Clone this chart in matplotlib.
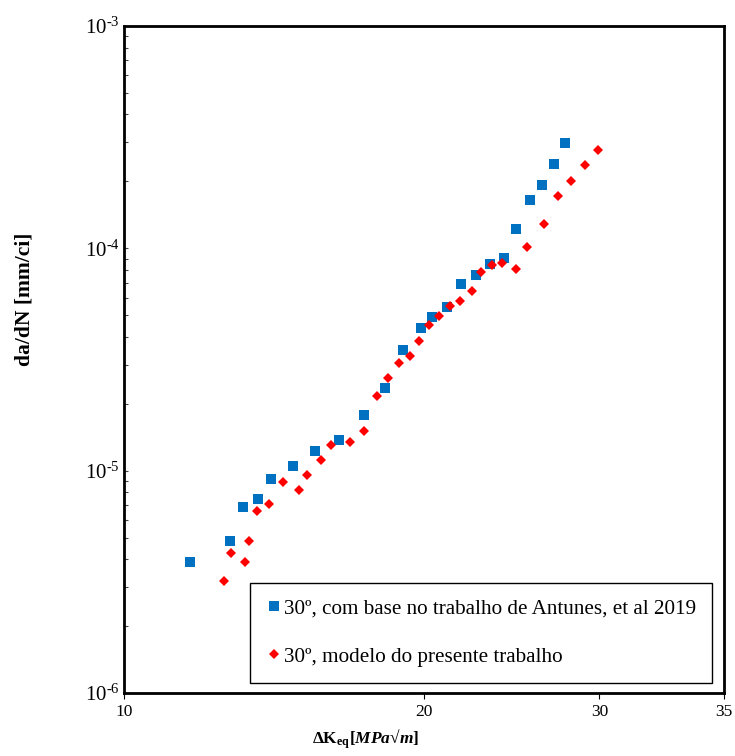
import numpy as np
import matplotlib
matplotlib.use("Agg")
import matplotlib.pyplot as plt
from matplotlib.ticker import FixedLocator, FixedFormatter, LogLocator, NullLocator, NullFormatter

plt.rcParams['font.family'] = ['Liberation Serif', 'DejaVu Serif']
plt.rcParams['mathtext.fontset'] = 'custom'
plt.rcParams['mathtext.rm'] = 'Liberation Serif'
plt.rcParams['mathtext.it'] = 'Liberation Serif:italic'
plt.rcParams['mathtext.bf'] = 'Liberation Serif:bold'
plt.rcParams['mathtext.bfit'] = 'Liberation Serif:italic:bold'

# crack growth rate vs equivalent stress intensity range, 30 degree case
dk_antunes = [11.66, 12.78, 13.15, 13.62, 14.03, 14.76, 15.53, 16.42, 17.43, 18.27,
              19.04, 19.85, 20.38, 21.10, 21.81, 22.54, 23.28, 24.04, 24.75, 25.53,
              26.28, 26.99, 27.73]
dadn_antunes = [3.90e-6, 4.85e-6, 6.87e-6, 7.43e-6, 9.18e-6, 1.047e-5, 1.232e-5, 1.370e-5,
                1.776e-5, 2.349e-5, 3.50e-5, 4.36e-5, 4.90e-5, 5.44e-5, 6.88e-5, 7.58e-5,
                8.46e-5, 9.01e-5, 1.216e-4, 1.648e-4, 1.919e-4, 2.386e-4, 2.966e-4]

dk_modelo = [12.59, 12.81, 13.22, 13.35, 13.61, 13.98, 14.44, 14.98, 15.28, 15.76,
             16.15, 16.86, 17.42, 17.96, 18.42, 18.88, 19.35, 19.78, 20.21, 20.72,
             21.24, 21.74, 22.32, 22.84, 23.41, 23.95, 24.76, 25.40, 26.42, 27.25,
             28.12, 29.00, 29.91]
dadn_modelo = [3.18e-6, 4.28e-6, 3.87e-6, 4.81e-6, 6.57e-6, 7.11e-6, 8.87e-6, 8.19e-6,
               9.56e-6, 1.117e-5, 1.305e-5, 1.346e-5, 1.504e-5, 2.178e-5, 2.624e-5,
               3.05e-5, 3.27e-5, 3.83e-5, 4.54e-5, 4.97e-5, 5.48e-5, 5.79e-5, 6.44e-5,
               7.84e-5, 8.40e-5, 8.55e-5, 8.04e-5, 1.016e-4, 1.281e-4, 1.712e-4,
               2.006e-4, 2.375e-4, 2.758e-4]

x_ticks = [10, 20, 30, 40]
x_ticklabels = ['10', '20', '30', '35']
y_ticks = [1e-6, 1e-5, 1e-4, 1e-3]
y_ticklabels = [r'$10^{\text{-6}}$', r'$10^{\text{-5}}$', r'$10^{\text{-4}}$', r'$10^{\text{-3}}$']

fig = plt.figure(figsize=(7.35, 7.56), dpi=100)
fig.subplots_adjust(left=124/735, right=724/735, bottom=1 - 693/756, top=1 - 26/756)
ax = fig.add_subplot(111)

ax.plot(dk_antunes, dadn_antunes, 's', color='#0070C0', ms=6.6, mew=0,
        label='30º, com base no trabalho de Antunes, et al 2019')
ax.plot(dk_modelo, dadn_modelo, 'D', color='#FF0000', ms=5.0, mew=0,
        label='30º, modelo do presente trabalho')

ax.set_xscale('log')
ax.set_yscale('log')
ax.set_xlim(10, 40)
ax.set_ylim(1e-6, 1e-3)

ax.xaxis.set_major_locator(FixedLocator(x_ticks))
ax.xaxis.set_major_formatter(FixedFormatter(x_ticklabels))
ax.xaxis.set_minor_locator(NullLocator())
ax.yaxis.set_major_locator(FixedLocator(y_ticks))
ax.yaxis.set_major_formatter(FixedFormatter(y_ticklabels))
ax.yaxis.set_minor_locator(LogLocator(base=10, subs=np.arange(2, 10)))
ax.yaxis.set_minor_formatter(NullFormatter())

ax.tick_params(axis='x', which='major', direction='out', length=4, width=0.8,
               labelsize=12.5, pad=4, top=False)
ax.tick_params(axis='y', which='both', direction='in', length=3, width=0.8,
               color='#444444', right=False)
ax.tick_params(axis='y', which='major', labelsize=15, pad=3)

for s in ax.spines.values():
    s.set_linewidth(2)
    s.set_color('black')

ax.set_xlabel(r'$\mathbf{\Delta K}_{\mathbf{eq}}\mathbf{[}\mathbfit{MPa}√\mathbfit{m}\mathbf{]}$',
              fontsize=12.5)
ax.xaxis.set_label_coords(366/600 - 124/600, -0.051)
fig.text(25/735, 1 - 299/756, 'da/dN [mm/ci]', rotation=90, ha='center', va='center',
         fontsize=15.5, fontweight='bold')

leg = ax.legend(loc='lower right', bbox_to_anchor=((711.7 - 124)/600, (693 - 682.7)/667),
                borderaxespad=0, fontsize=15.2, frameon=True, fancybox=False,
                framealpha=1, edgecolor='black', borderpad=0.75, handlelength=0.76,
                handletextpad=0.1, labelspacing=1.36, numpoints=1)
leg.get_frame().set_linewidth(1.0)

fig.savefig('out.png', dpi=100)
